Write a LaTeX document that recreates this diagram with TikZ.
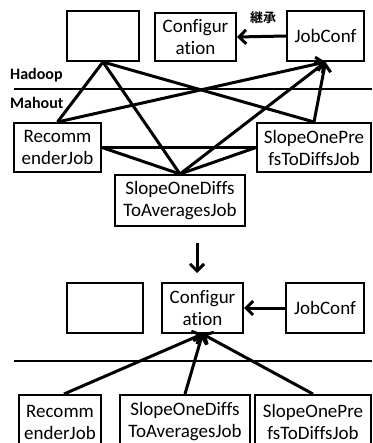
\documentclass[tikz,border=0pt]{standalone}
\usepackage{fontspec}
\setmainfont{Carlito}[Ligatures={NoCommon,NoRare,NoContextual}]
\newfontfamily\cjk{Noto Sans CJK JP}[BoldFont={* Bold}]
\usetikzlibrary{arrows.meta}
\begin{document}
\begin{tikzpicture}[x=1pt,y=-1pt,
  box/.style={draw,line width=2pt,inner sep=0pt,align=center,
    font=\fontsize{19}{22}\selectfont},
  conn/.style={line width=3pt},
  arr/.style={line width=3pt,-{Straight Barb[length=7pt,width=14pt,line width=3pt]}},
  sep/.style={line width=2pt},
  lbl/.style={font=\fontsize{16}{18}\selectfont\bfseries,anchor=west,inner sep=0pt}]
\useasboundingbox (0,0) rectangle (372,443);
% top section
\node[box,minimum width=72pt,minimum height=50pt] (e1) at (103,36) {};
\node[box,minimum width=81pt,minimum height=48pt] (c1) at (195.5,37) {Configur\\ation};
\node[box,minimum width=77pt,minimum height=50pt] (j1) at (325.5,36) {JobConf};
\node[box,minimum width=87pt,minimum height=49pt] (r1) at (57.5,147.5) {Recomm\\enderJob};
\node[box,minimum width=114pt,minimum height=49pt] (p1) at (314,147.5) {SlopeOnePre\\fsToDiffsJob};
\node[box,minimum width=130pt,minimum height=51pt] (d1) at (180,200.5) {SlopeOneDiffs\\ToAveragesJob};
\node[font=\cjk\bfseries\fontsize{13}{15}\selectfont,inner sep=0pt] (k) at (263,18) {継承};
\node[lbl] (hd) at (10,75) {Hadoop};
\node[lbl] (mh) at (10,103) {Mahout};
\coordinate (s1a) at (14,89);
\coordinate (s1b) at (372,89);
\draw[sep] (s1a) -- (s1b);
\draw[arr] (j1.west) -- (c1.east);
\draw[conn] (e1.south) -- (r1.north);
\draw[conn] (e1.south) -- (d1.north);
\draw[conn] (e1.south) -- (p1.north);
\draw[arr] (r1.north) -- (j1.south);
\draw[arr] (d1.north) -- (j1.south);
\draw[arr] (p1.north) -- (j1.south);
\draw[conn] (r1.east) -- (p1.west);
\draw[conn] (r1.east) -- (d1.north);
\draw[conn] (p1.west) -- (d1.north);
% transition arrow
\coordinate (ta) at (197,243);
\coordinate (tb) at (197,273);
\draw[arr] (ta) -- (tb);
% bottom section
\node[box,minimum width=76pt,minimum height=50pt] (e2) at (105,308) {};
\node[box,minimum width=81pt,minimum height=50pt] (c2) at (202.5,308) {Configur\\ation};
\node[box,minimum width=78pt,minimum height=50pt] (j2) at (325,308) {JobConf};
\coordinate (s2a) at (14,361);
\coordinate (s2b) at (372,361);
\draw[sep] (s2a) -- (s2b);
\draw[arr] (j2.west) -- (c2.east);
\node[box,minimum width=82pt,minimum height=54pt] (r2) at (60,422) {Recomm\\enderJob};
\node[box,minimum width=130pt,minimum height=54pt] (d2) at (185,422) {SlopeOneDiffs\\ToAveragesJob};
\node[box,minimum width=116pt,minimum height=54pt] (p2) at (313,422) {SlopeOnePre\\fsToDiffsJob};
\draw[arr] ([xshift=4pt]r2.north) -- (c2.south);
\draw[arr] (d2.north) -- (c2.south);
\draw[arr] (p2.north) -- (c2.south);
\end{tikzpicture}
\end{document}
